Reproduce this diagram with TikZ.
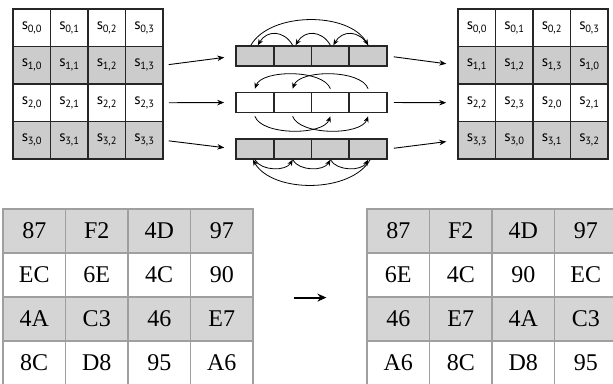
\documentclass[tikz,border=0pt]{standalone}
\usepackage{fontspec}
\setmainfont{Liberation Serif}
\newfontfamily\cellfont{PT Sans}
\usetikzlibrary{arrows.meta,calc}

\tikzset{
  scell/.style={draw=black!85, line width=1.6pt, minimum width=37.5pt, minimum height=37.5pt,
    inner sep=0pt, font=\cellfont\fontsize{15}{15}\selectfont},
  bcell/.style={draw=black!85, line width=1.6pt, minimum width=37.75pt, minimum height=20pt, inner sep=0pt},
  hcell/.style={draw=gray!75, line width=1.2pt, minimum width=62.5pt, minimum height=44pt,
    inner sep=0pt, text=black, font=\fontsize{24}{24}\selectfont},
  flow/.style={-{Stealth[length=7pt,width=5.5pt]}, line width=0.9pt, shorten <=5pt, shorten >=11pt},
  hop/.style={-{Stealth[length=6pt,width=5pt]}, line width=0.8pt},
}
\newcommand{\sidx}[2]{s\kern-0.5pt\raisebox{-0.45ex}{\fontsize{10.5}{10.5}\selectfont#1,#2}}

\begin{document}
\begin{tikzpicture}[x=1pt, y=1pt]
  \useasboundingbox (0,0) rectangle (613,383);
  % state before and after the row shift
  \foreach \r in {0,...,3} {
    \ifodd\r \def\tone{gray!40}\else\def\tone{white}\fi
    \foreach \c in {0,...,3} {
      \pgfmathtruncatemacro{\s}{mod(\c+\r,4)}
      \node[scell, fill=\tone] (L\r\c) at (31.75+37.5*\c, 355.25-37.5*\r) {\sidx{\r}{\c}};
      \node[scell, fill=\tone] (R\r\c) at (476.75+37.5*\c, 355.25-37.5*\r) {\sidx{\r}{\s}};
    }
  }
  % the three shifted rows
  \foreach \r/\y/\tone in {1/327/gray!40, 2/280.5/white, 3/234/gray!40} {
    \foreach \c in {0,...,3}
      \node[bcell, fill=\tone] (B\r\c) at (254.875+37.75*\c, \y) {};
    \draw[flow] (L\r3.east) -- (B\r0.west);
    \draw[flow, shorten <=6pt] (B\r3.east) -- (R\r0.west);
  }
  % row 1: one to the left
  \foreach \c in {1,2,3} {
    \pgfmathtruncatemacro{\p}{\c-1}
    \draw[hop] (B1\c.north) to[out=120, in=60, looseness=1.3] ($(B1\p.north)+(3,0)$);
  }
  \draw[hop] ($(B10.north)+(-4,0)$) to[out=60, in=120, looseness=0.85] (B13.north);
  % row 2: two places
  \draw[hop] ($(B22.north)+(0,3)$) to[out=110, in=70, looseness=0.7] ($(B20.north)+(0,3)$);
  \draw[hop] ($(B23.north)+(0,3)$) to[out=110, in=70, looseness=0.7] ($(B21.north)+(0,3)$);
  \draw[hop] ($(B20.south)+(0,-3)$) to[out=-70, in=-110, looseness=0.7] ($(B22.south)+(0,-3)$);
  \draw[hop] ($(B21.south)+(0,-3)$) to[out=-70, in=-110, looseness=0.7] ($(B23.south)+(0,-3)$);
  % row 3: one to the right
  \foreach \c in {0,1,2} {
    \pgfmathtruncatemacro{\n}{\c+1}
    \draw[hop] (B3\c.south) to[out=-60, in=-120, looseness=0.9] (B3\n.south);
  }
  \draw[hop] ($(B33.south)+(2,0)$) to[out=-120, in=-60, looseness=0.85] ($(B30.south)+(-2,0)$);
  % example in hex
  \foreach \r/\row in {0/{87,F2,4D,97}, 1/{EC,6E,4C,90}, 2/{4A,C3,46,E7}, 3/{8C,D8,95,A6}} {
    \ifodd\r \def\tone{white}\else\def\tone{gray!33}\fi
    \foreach \v [count=\k from 0] in \row {
      \pgfmathtruncatemacro{\c}{mod(\k-\r+4,4)}
      \node[hcell, fill=\tone] (P\r\k) at (34.25+62.5*\k, 152-44*\r) {\v};
      \node[hcell, fill=\tone] (Q\r\c) at (398.25+62.5*\c, 152-44*\r) {\v};
    }
  }
  \draw[-{Stealth[length=9pt,width=8pt]}, line width=2pt]
    ($(P13.south east)+(40,0)$) -- ($(Q10.south west)+(-40,0)$);
\end{tikzpicture}
\end{document}
